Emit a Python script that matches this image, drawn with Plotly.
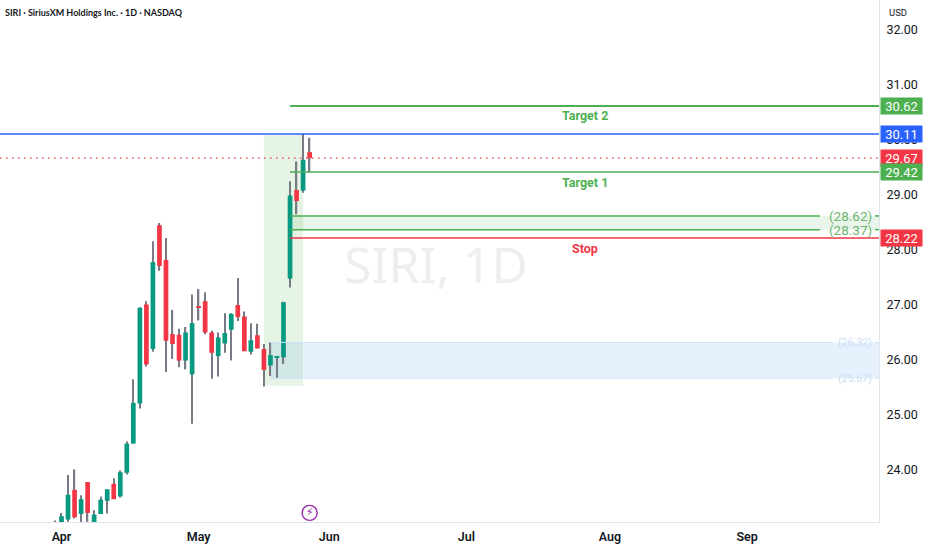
import plotly.graph_objects as go

# session index 0..39, daily candles
sessions = list(range(40))
highs = [23.08,23.22,23.91,24.01,23.54,23.78,23.27,23.52,23.65,23.85,23.99,24.52,25.65,26.96,27.07,28.16,28.49,28.22,26.91,26.57,
         26.60,27.19,27.29,27.23,26.53,26.50,26.85,26.85,27.49,26.88,26.67,26.66,26.29,26.32,26.07,27.06,29.25,29.61,30.12,30.04]
opens = [22.95,23.00,23.10,23.64,23.20,23.78,23.00,23.20,23.44,23.75,23.52,23.95,24.48,25.21,27.01,26.20,28.45,27.82,26.47,26.46,
         25.99,25.74,26.98,27.07,26.50,26.07,26.30,26.55,27.00,26.79,26.15,26.45,26.20,25.90,26.05,26.05,27.48,29.09,29.08,29.78]
closes = [23.00,23.16,23.55,23.14,23.47,23.22,23.19,23.46,23.65,23.47,23.96,24.48,25.22,26.95,25.92,27.78,27.71,26.35,26.29,25.99,
          26.50,26.67,26.95,26.50,26.13,26.41,26.49,26.84,26.78,26.16,26.36,26.21,25.82,26.09,26.06,27.05,28.99,28.89,29.64,29.67]
lows = [22.80,22.90,23.06,23.12,23.00,23.06,22.90,23.20,23.21,23.47,23.50,23.92,24.48,25.12,25.88,26.15,27.62,25.78,26.02,25.87,
        25.83,24.84,26.72,26.47,25.66,25.70,26.13,25.99,26.71,26.16,26.10,26.21,25.52,25.71,25.67,25.93,27.32,28.65,29.04,29.41]

y_ticks = [32, 31, 30, 29, 28, 27, 26, 25, 24]
month_labels = ["Apr", "May", "Jun", "Jul", "Aug", "Sep"]
month_sessions = [1, 22, 42, 63, 85, 106]

target_2, last_blue, last_price, target_1 = 30.62, 30.11, 29.67, 29.42
zone_hi, zone_lo, stop = 28.62, 28.37, 28.22
demand_hi, demand_lo = 26.32, 25.67
box_top, box_bottom = 30.09, 25.53

GREEN, RED, BLUE, WICK = "#089981", "#F23645", "#2962FF", "#787B86"
LGREEN = "#4CAF50"
FONT = "Roboto"
XMIN, XMAX = -8.42, 126.2

fig = go.Figure()

# rectangles
fig.add_shape(type="rect", x0=32, x1=38, y0=box_bottom, y1=box_top, layer="below",
              fillcolor="rgba(76,175,80,0.14)", line_width=0)
fig.add_shape(type="rect", x0=33, x1=XMAX, y0=demand_lo, y1=demand_hi, layer="below",
              fillcolor="rgba(33,130,240,0.11)", line_width=0)
fig.add_shape(type="rect", x0=36, x1=XMAX, y0=zone_lo, y1=zone_hi, layer="below",
              fillcolor="rgba(76,175,80,0.12)", line_width=0)

def hline(xs, y, color, width, dash="solid"):
    fig.add_trace(go.Scatter(x=xs, y=[None if x is None else y for x in xs], mode="lines",
                             line=dict(color=color, width=width, dash=dash),
                             connectgaps=False, hoverinfo="skip", showlegend=False))

hline([XMIN, XMAX], last_blue, BLUE, 1.4)
hline([XMIN, XMAX], last_price, RED, 1.3, "1.5px,4.5px")
hline([36, XMAX], target_2, LGREEN, 2)
hline([36, XMAX], target_1, LGREEN, 1.5)
hline([36, XMAX], stop, RED, 1.5)
for lvl in (zone_hi, zone_lo):
    hline([36, 117.2, None, 125.6, XMAX], lvl, LGREEN, 1.5)
for lvl in (demand_hi, demand_lo):
    hline([33, 119.1, None, 125.6, XMAX], lvl, "#CFE2F7", 1)

# wicks
fig.add_trace(go.Bar(x=sessions, y=[h - l for h, l in zip(highs, lows)], base=lows, width=0.2,
                     marker=dict(color=WICK, line_width=0), hoverinfo="skip", showlegend=False))
# bodies
body_colors = [GREEN if c >= o else RED for o, c in zip(opens, closes)]
fig.add_trace(go.Bar(x=sessions, y=[abs(c - o) for o, c in zip(opens, closes)],
                     base=[min(o, c) for o, c in zip(opens, closes)], width=0.72,
                     marker=dict(color=body_colors, line_width=0), hoverinfo="skip", showlegend=False))

# event marker
fig.add_trace(go.Scatter(x=[39], y=[23.22], mode="markers+text", text=["⚡"],
                         textposition="middle center", textfont=dict(size=11, color="#9C27B0", family="DejaVu Sans"),
                         marker=dict(symbol="circle-open", size=15, color="#9C27B0", line=dict(width=1.4)),
                         hoverinfo="skip", showlegend=False))

anns = []
for txt, y, col in [("Target 2", 30.44, LGREEN), ("Target 1", 29.23, LGREEN), ("Stop", 28.03, RED)]:
    anns.append(dict(x=81.2, y=y, xref="x", yref="y", text=f"<b>{txt}</b>", showarrow=False,
                     font=dict(size=12.5, color=col, family=FONT)))
for txt, y in [("(28.62)", zone_hi), ("(28.37)", zone_lo)]:
    anns.append(dict(x=121.8, y=y, xref="x", yref="y", text=txt, showarrow=False,
                     font=dict(size=13.5, color="#6DB670", family=FONT)))
for txt, y in [("(26.32)", demand_hi), ("(25.67)", demand_lo)]:
    anns.append(dict(x=122.5, y=y, xref="x", yref="y", text=txt, showarrow=False,
                     font=dict(size=10.5, color="#C9DDF4", family=FONT)))
for val, col in [(target_2, LGREEN), (last_blue, BLUE), (last_price, RED), (target_1, LGREEN), (stop, RED)]:
    anns.append(dict(x=1, y=val, xref="paper", yref="y", xanchor="left", xshift=1, text=f"{val:.2f}",
                     showarrow=False, width=41, height=16, bgcolor=col, borderpad=0,
                     font=dict(size=13, color="white", family=FONT)))
anns.append(dict(x=1, y=1, xref="paper", yref="paper", xanchor="left", yanchor="middle", xshift=8, yshift=-12,
                 text="USD", showarrow=False, font=dict(size=9.5, color="#131722", family=FONT)))
anns.append(dict(x=0, y=1, xref="paper", yref="paper", xanchor="left", yanchor="middle", xshift=3, yshift=-12,
                 text="SIRI · SiriusXM Holdings Inc. · 1D · NASDAQ", showarrow=False,
                 font=dict(size=9, color="#131722", family="Lato", weight=700)))
anns.append(dict(x=58.3, y=27.75, xref="x", yref="y", text="SIRI, 1D", showarrow=False,
                 font=dict(size=50, color="#EDEEF0", family="Noto Sans")))

fig.update_layout(
    width=932, height=550, autosize=False, paper_bgcolor="white", plot_bgcolor="white",
    margin=dict(l=0, r=53, t=0, b=28), barmode="overlay", showlegend=False, annotations=anns,
    xaxis=dict(range=[XMIN, XMAX], tickmode="array", tickvals=month_sessions, ticktext=month_labels,
               showgrid=False, zeroline=False, showline=True, linecolor="#E0E3EB", linewidth=1, ticks="",
               ticklabelstandoff=3,
               tickfont=dict(size=12.5, color="#131722", family=FONT, weight=600)),
    yaxis=dict(range=[23.055, 32.545], side="right", tickmode="array", tickvals=y_ticks,
               ticktext=[f"{v:.2f}" for v in y_ticks], showgrid=False, zeroline=False,
               showline=True, linecolor="#E0E3EB", linewidth=1, ticks="", ticklabelstandoff=4,
               tickfont=dict(size=12.5, color="#131722", family=FONT)),
)
fig.write_html("out.html", post_script="document.body.style.margin='0';", config=dict(displayModeBar=False))
